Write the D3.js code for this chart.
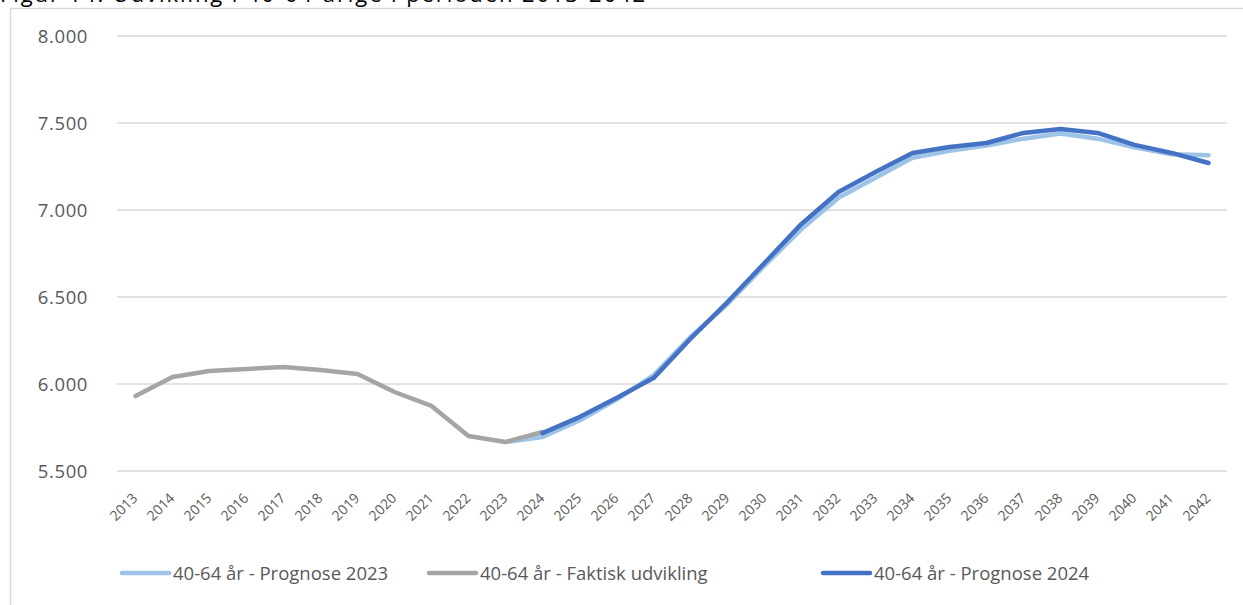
<!DOCTYPE html>
<html>
<head>
<meta charset="utf-8">
<script src="https://cdn.jsdelivr.net/npm/d3@7"></script>
<style>
  body { margin: 0; background: #fff; }
  svg { display: block; font-family: "Open Sans", "Noto Sans", sans-serif; }
</style>
</head>
<body>
<svg id="chart" width="1243" height="605"></svg>
<script>
// data
const years = d3.range(2013, 2043).map(String);
const faktisk = [5931, 6040, 6075, 6086, 6098, 6080, 6057, 5954, 5874, 5701, 5667, 5724];
const faktiskYears = years.slice(0, 12);
const prognose2023 = [5667, 5695, 5790, 5910, 6050, 6270, 6460, 6680, 6890, 7070, 7185, 7300, 7340, 7370, 7410, 7440, 7410, 7360, 7320, 7315];
const prognose2023Years = years.slice(10);
const prognose2024 = [5718, 5810, 5920, 6034, 6260, 6471, 6695, 6920, 7103, 7218, 7328, 7362, 7385, 7443, 7466, 7443, 7374, 7328, 7270];
const prognose2024Years = years.slice(11);
const yTicks = [5500, 6000, 6500, 7000, 7500, 8000];

const series = [
  { name: "40-64 år - Prognose 2023", x: prognose2023Years, v: prognose2023, color: "#9dc3e6" },
  { name: "40-64 år - Faktisk udvikling", x: faktiskYears, v: faktisk, color: "#a5a5a5" },
  { name: "40-64 år - Prognose 2024", x: prognose2024Years, v: prognose2024, color: "#4472c4" }
];

const svg = d3.select("#chart");
const plotLeft = 117, plotRight = 1227, plotTop = 36, plotBottom = 471;

// title (cut off at top in the original)
svg.append("text")
  .attr("x", 0).attr("y", 2)
  .attr("font-size", 22)
  .attr("textLength", 645)
  .attr("fill", "#000")
  .text("Figur 14: Udvikling i 40-64-årige i perioden 2013-2042");

// outer frame
svg.append("rect")
  .attr("x", 10.5).attr("y", 8.5)
  .attr("width", 1240).attr("height", 610)
  .attr("fill", "none")
  .attr("stroke", "#d9d9d9")
  .attr("stroke-width", 1.5);

const x = d3.scaleBand().domain(years).range([plotLeft, plotRight]);
const y = d3.scaleLinear().domain([5500, 8000]).range([plotBottom, plotTop]);

// gridlines
svg.append("g")
  .selectAll("line")
  .data(yTicks)
  .join("line")
  .attr("x1", plotLeft).attr("x2", plotRight)
  .attr("y1", d => y(d)).attr("y2", d => y(d))
  .attr("stroke", "#d9d9d9")
  .attr("stroke-width", 1.5);

// y labels
const fmt = d => d3.format(",")(d).replace(/,/g, ".");
svg.append("g")
  .selectAll("text")
  .data(yTicks)
  .join("text")
  .attr("x", 88)
  .attr("y", d => y(d) + 6.5)
  .attr("text-anchor", "end")
  .attr("font-size", 18.5)
  .attr("letter-spacing", 0.6)
  .attr("fill", "#595959")
  .text(fmt);

// x labels, rotated
svg.append("g")
  .selectAll("text")
  .data(years)
  .join("text")
  .attr("transform", d => `translate(${x(d) + x.bandwidth() / 2 + 3},${499}) rotate(-45)`)
  .attr("text-anchor", "end")
  .attr("font-size", 14)
  .attr("fill", "#595959")
  .text(d => d);

// lines
const line = d3.line()
  .x(d => x(d[0]) + x.bandwidth() / 2)
  .y(d => y(d[1]));

series.forEach(s => {
  svg.append("path")
    .datum(s.x.map((yr, i) => [yr, s.v[i]]))
    .attr("d", line)
    .attr("fill", "none")
    .attr("stroke", s.color)
    .attr("stroke-width", 4.5)
    .attr("stroke-linejoin", "round")
    .attr("stroke-linecap", "round");
});

// legend
const legendX = [122, 429, 823];
const legend = svg.append("g");
series.forEach((s, i) => {
  legend.append("line")
    .attr("x1", legendX[i]).attr("x2", legendX[i] + 47)
    .attr("y1", 573).attr("y2", 573)
    .attr("stroke", s.color)
    .attr("stroke-width", 4.5)
    .attr("stroke-linecap", "round");
  legend.append("text")
    .attr("x", legendX[i] + 51)
    .attr("y", 579.5)
    .attr("font-size", 18.5)
    .attr("fill", "#595959")
    .text(s.name);
});
</script>
</body>
</html>
